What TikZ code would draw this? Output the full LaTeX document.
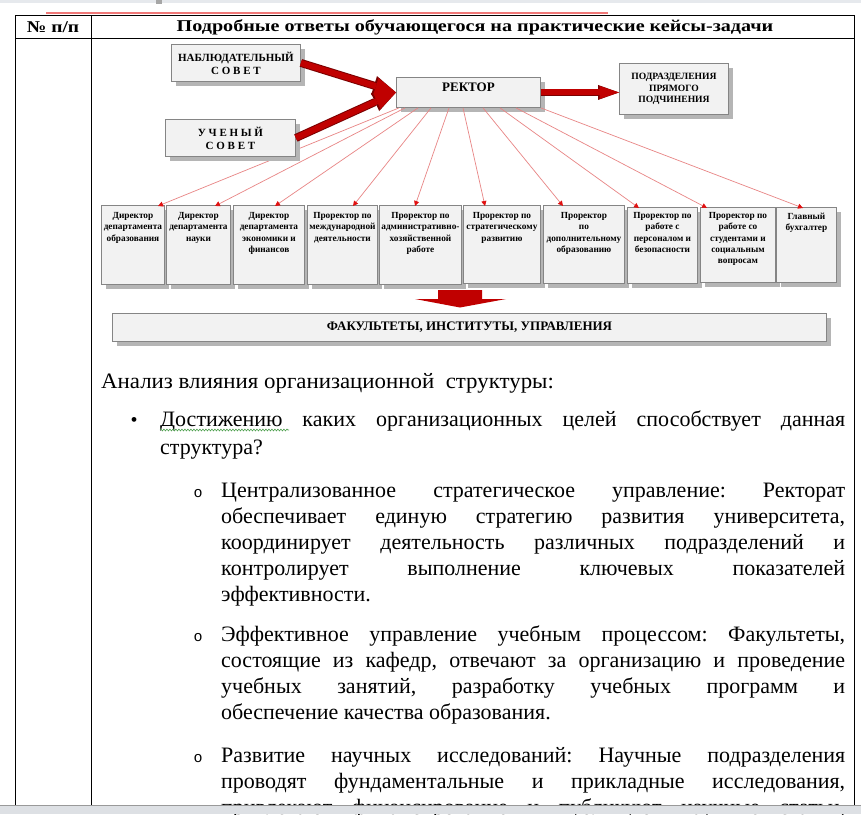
\documentclass[tikz,border=0pt]{standalone}
\usepackage{fontspec}
\setmainfont{Liberation Serif}
\newfontfamily\monofont{Liberation Mono}
\usetikzlibrary{arrows.meta,shadows,calc,decorations.pathmorphing}
\frenchspacing
\definecolor{boxfill}{HTML}{F2F2F2}
\definecolor{boxline}{HTML}{858585}
\definecolor{shadowgrey}{HTML}{B5B5B5}
\definecolor{arrred}{HTML}{C00000}
\definecolor{arrdark}{HTML}{7A0000}
\definecolor{thinline}{HTML}{E88585}
\definecolor{headred}{HTML}{E01010}
\definecolor{topgrey}{HTML}{E6E9ED}
\definecolor{botgrey}{HTML}{DDE0E4}
\definecolor{redmark}{HTML}{F07878}
\definecolor{squiggle}{HTML}{4FA04F}
\tikzset{
  obox/.style={draw=boxline, fill=boxfill, line width=0.9pt, inner sep=0pt, align=center,
    drop shadow={shadow xshift=5pt, shadow yshift=-5pt, fill=shadowgrey, opacity=1, draw=none}},
  btext/.style={inner sep=0pt, anchor=north, align=center, font=\bfseries\fontsize{9.3}{11.2}\selectfont},
  ttext/.style={font=\bfseries\fontsize{11}{13}\selectfont},
  thinred/.style={draw=thinline, line width=0.7pt, -{Triangle[length=5pt,width=5pt,color=headred,fill=headred]}},
  bigout/.style={draw=arrdark, line width=8pt, -{Triangle[length=23pt,width=20pt,line width=0pt]}},
  bigin/.style={draw=arrred, line width=6pt, -{Triangle[length=21pt,width=17pt,line width=0pt]}},
  body/.style={anchor=base west, inner sep=0pt, font=\fontsize{22}{26}\selectfont},
  tabline/.style={draw=black, line width=1pt},
}
\begin{document}
\begin{tikzpicture}[x=1pt,y=-1pt]
\useasboundingbox (0,0) rectangle (861,814);
\fill[white] (0,0) rectangle (861,814);
% window band at top
\fill[topgrey] (0,0) rectangle (861,3);
\fill[gray!70] (156,0) rectangle (162,4);
% red mark above table
\draw[redmark, line width=2pt] (46,13) -- (608,13);
% table
\draw[tabline] (15,15) -- (854,15);
\draw[tabline] (15,38) -- (854,38);
\draw[tabline] (15,15) -- (15,806);
\draw[tabline] (91,15) -- (91,806);
\draw[tabline] (854,15) -- (854,806);
\node[inner sep=0pt, font=\bfseries\fontsize{16.5}{18}\selectfont] (hnum) at (53,27) {\scalebox{1.18}[1]{№ п/п}};
\node[inner sep=0pt, font=\bfseries\fontsize{16.5}{18}\selectfont] (hans) at (475,27) {\scalebox{1.22}[1]{Подробные ответы обучающегося на практические кейсы-задачи}};

% rector and lower boxes
\node[obox, anchor=north west, minimum width=144pt, minimum height=30pt] (rector) at (396,77) {};
\node[inner sep=0pt, font=\bfseries\fontsize{13}{15}\selectfont] (rtext) at ([yshift=5pt]rector.center) {РЕКТОР};
\node[obox, anchor=north west, minimum width=63pt, minimum height=79pt] (b1) at (101,205) {};
\node[obox, anchor=north west, minimum width=64pt, minimum height=79pt] (b2) at (166,205) {};
\node[obox, anchor=north west, minimum width=71pt, minimum height=79pt] (b3) at (233,205) {};
\node[obox, anchor=north west, minimum width=70pt, minimum height=79pt] (b4) at (307,205) {};
\node[obox, anchor=north west, minimum width=82pt, minimum height=79pt] (b5) at (379,205) {};
\node[obox, anchor=north west, minimum width=77pt, minimum height=78pt] (b6) at (463,205) {};
\node[obox, anchor=north west, minimum width=81pt, minimum height=78pt] (b7) at (543,205) {};
\node[obox, anchor=north west, minimum width=70pt, minimum height=76pt] (b8) at (627,207) {};
\node[obox, anchor=north west, minimum width=75pt, minimum height=75pt] (b9) at (700,207) {};
\node[obox, anchor=north west, minimum width=60pt, minimum height=75pt] (b10) at (776,207) {};

% thin red connectors
\draw[thinred] ([xshift=3pt]rector.south west) -- ([xshift=57pt,yshift=-1pt]b1.north west);
\draw[thinred] ([xshift=9pt]rector.south west) -- ([xshift=49pt,yshift=-1pt]b2.north west);
\draw[thinred] ([xshift=22pt]rector.south west) -- ([xshift=42pt,yshift=-1pt]b3.north west);
\draw[thinred] ([xshift=35pt]rector.south west) -- ([xshift=46pt,yshift=-1pt]b4.north west);
\draw[thinred] ([xshift=53pt]rector.south west) -- ([xshift=36pt,yshift=-1pt]b5.north west);
\draw[thinred] ([xshift=67pt]rector.south west) -- ([xshift=22pt,yshift=-1pt]b6.north west);
\draw[thinred] ([xshift=87pt]rector.south west) -- ([xshift=20pt,yshift=-1pt]b7.north west);
\draw[thinred] ([xshift=104pt]rector.south west) -- ([xshift=12pt,yshift=-1pt]b8.north west);
\draw[thinred] ([xshift=120pt]rector.south west) -- ([xshift=7pt,yshift=-1pt]b9.north west);
\draw[thinred] (rector.south east) -- ([xshift=27pt,yshift=-1pt]b10.north west);

% top boxes
\node[obox, ttext, anchor=north west, minimum width=129pt, minimum height=37pt] (nab) at (171,44) {НАБЛЮДАТЕЛЬНЫЙ\\С О В Е Т};
\node[obox, ttext, anchor=north west, minimum width=130pt, minimum height=37pt] (uch) at (165,119) {У Ч Е Н Ы Й\\С О В Е Т};
\node[obox, anchor=north west, minimum width=109pt, minimum height=51pt, font=\bfseries\fontsize{9.6}{11.5}\selectfont] (podr) at (619,63) {ПОДРАЗДЕЛЕНИЯ\\ПРЯМОГО\\ПОДЧИНЕНИЯ};
\node[obox, anchor=north west, minimum width=714pt, minimum height=28pt, font=\bfseries\fontsize{13}{15}\selectfont] (fac) at (112,313) {ФАКУЛЬТЕТЫ, ИНСТИТУТЫ, УПРАВЛЕНИЯ};

\coordinate (tl) at (0,212.5);
\node[btext] (t1) at (b1.north |- tl) {Директор\\департамента\\образования};
\node[btext] (t2) at (b2.north |- tl) {Директор\\департамента\\науки};
\node[btext] (t3) at (b3.north |- tl) {Директор\\департамента\\экономики и\\финансов};
\node[btext] (t4) at (b4.north |- tl) {Проректор по\\международной\\деятельности};
\node[btext] (t5) at (b5.north |- tl) {Проректор по\\административно-\\хозяйственной\\работе};
\node[btext] (t6) at (b6.north |- tl) {Проректор по\\стратегическому\\развитию};
\node[btext] (t7) at (b7.north |- tl) {Проректор\\по\\дополнительному\\образованию};
\node[btext] (t8) at (b8.north |- tl) {Проректор по\\работе с\\персоналом и\\безопасности};
\node[btext] (t9) at (b9.north |- tl) {Проректор по\\работе со\\студентами и\\социальным\\вопросам};
\node[btext] (t10) at (b10.north |- tl) {Главный\\бухгалтер};

% thick red arrows
\draw[bigout] (nab.east) -- (rector.west);
\draw[bigout] (uch.east) -- (rector.west);
\draw[bigin] (nab.east) -- (rector.west);
\draw[bigin] (uch.east) -- (rector.west);
\draw[draw=arrdark, line width=7.5pt, -{Triangle[length=21pt,width=15pt,line width=0pt]}] (rector.east) -- (rector.east -| podr.west);
\draw[draw=arrred, line width=6pt, -{Triangle[length=19.5pt,width=13pt,line width=0pt]}] (rector.east) -- (rector.east -| podr.west);
% down arrow to faculties
\fill[arrred] (438,290) -- (482,290) -- (482,299) -- (506,299) -- (460,307.5) -- (415,299) -- (438,299) -- cycle;

% body text
\node[body] (l0) at (101,388) {\scalebox{1.04}[1]{Анализ влияния организационной\ \ структуры:}};
\node[anchor=base, inner sep=0pt, font=\fontsize{20}{24}\selectfont] (bul1) at (134,426) {•};
\node[body] (l1) at (160,426) {\makebox[685pt][s]{Достижению каких организационных целей способствует данная}};
\node[body] (l2) at (160,454) {структура?};
\draw[squiggle, line width=0.6pt, decorate, decoration={snake, amplitude=0.9pt, segment length=3pt}] ([yshift=-4pt]l1.base west) -- ++(129,0);

\foreach \yy in {497,641,762}{
  \node[anchor=base, inner sep=0pt, font=\monofont\fontsize{15}{18}\selectfont] at (198,\yy) {o};
}
\node[body] (c1) at (221,497) {\makebox[624pt][s]{Централизованное стратегическое управление: Ректорат}};
\node[body] (c2) at (221,523) {\makebox[624pt][s]{обеспечивает единую стратегию развития университета,}};
\node[body] (c3) at (221,549) {\makebox[624pt][s]{координирует деятельность различных подразделений и}};
\node[body] (c4) at (221,575) {\makebox[624pt][s]{контролирует выполнение ключевых показателей}};
\node[body] (c5) at (221,601) {эффективности.};
\node[body] (d1) at (221,641) {\makebox[624pt][s]{Эффективное управление учебным процессом: Факультеты,}};
\node[body] (d2) at (221,667) {\makebox[624pt][s]{состоящие из кафедр, отвечают за организацию и проведение}};
\node[body] (d3) at (221,693) {\makebox[624pt][s]{учебных занятий, разработку учебных программ и}};
\node[body] (d4) at (221,719) {обеспечение качества образования.};
\node[body] (e1) at (221,762) {\makebox[624pt][s]{Развитие научных исследований: Научные подразделения}};
\node[body] (e2) at (221,788) {\makebox[624pt][s]{проводят фундаментальные и прикладные исследования,}};
\node[body] (e3) at (221,814) {\makebox[624pt][s]{привлекают финансирование и публикуют научные статьи,}};

% bottom window band
\fill[botgrey] (0,805) rectangle (861,814);
\draw[gray!80, line width=1pt] (0,805) -- (861,805);
\end{tikzpicture}
\end{document}
